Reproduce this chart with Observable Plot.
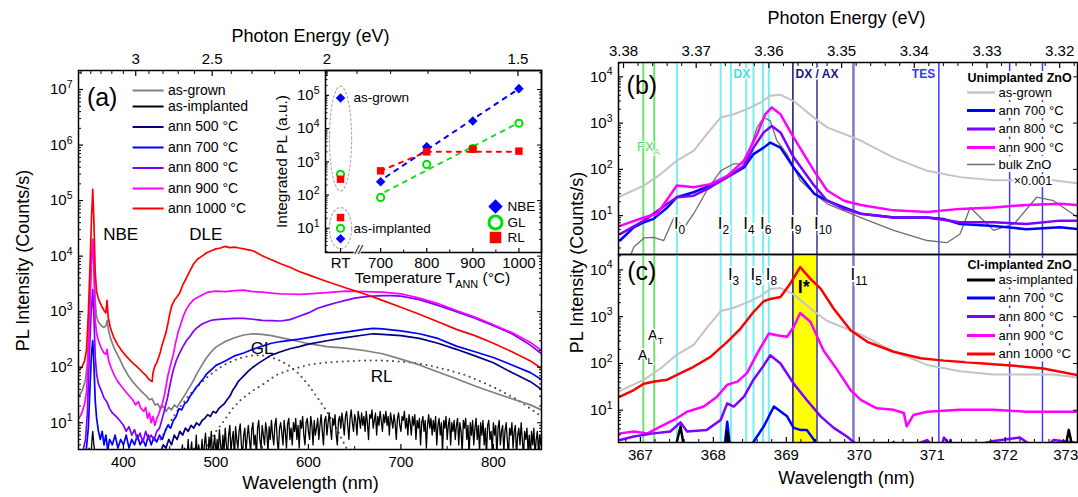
<!DOCTYPE html>
<html>
<head>
<meta charset="utf-8">
<script src="https://cdn.jsdelivr.net/npm/d3@7"></script>
<script src="https://cdn.jsdelivr.net/npm/@observablehq/plot@0.6"></script>
<style>
  html, body { margin: 0; padding: 0; background: #fff; }
  #fig { position: relative; width: 1078px; height: 497px; overflow: hidden; background: #fff; }
  #fig svg { position: absolute; left: 0; top: 0; overflow: visible; }
</style>
</head>
<body>
<div id="fig"></div>
<script>
const W = 1078, H = 497;
const HC = 1239.84; // eV·nm
const FONT = '"Liberation Sans", Arial, Helvetica, sans-serif';

// ===== (a) broad-range PL spectra: [wavelength nm, counts/s] =====
const asGrownA = [[352,30],[356,40],[359,60],[361,120],[363,800],[365,8000],[366.8,20000],[368,9000],[369.5,1500],[371,800],[373,650],[376,560],[379,520],[381,560],[382.5,700],[384,450],[386,330],[390,220],[395,150],[400,100],[405,72],[410,55],[415,44],[420,36],[425,30],[428,26],[431,27],[434,21],[437,22],[440,18],[443,20],[446,16],[449,19],[452,17],[455,21],[458,19],[461,23],[465,29],[470,40],[475,55],[480,80],[485,110],[490,150],[495,190],[500,230],[510,290],[520,340],[530,380],[540,400],[550,390],[560,370],[570,340],[580,315],[590,290],[600,265],[620,235],[640,220],[660,200],[680,175],[700,140],[720,110],[740,82],[760,62],[780,46],[800,35],[820,27],[840,21],[852,17]];
const asImplNBE = [[352,2],[360,2],[363,3.5],[365,2.5],[366,5],[366.8,7],[368,4],[370,2.5],[373,2],[400,2],[459,2]];
const asImplStart = 460, asImplStep = 1.25;
const asImplNoise = [
  2,3,2.5,4,2,3.5,2,2.5,5,2,3,4.5,2,3.5,2.5,6,2,4,3,2.5,
  5,2,4,6.5,3,2,5.5,3.5,7,2.5,4,6,2,5,3,7.5,4,2.5,6,3,
  8,4,2.5,6,9,3,5,7,2,8.5,5,3.5,7,9.5,4,2.5,6,8,3,5.5,
  9,5,3,7.5,10,4,6,2.5,8,11,5,3.5,9,6,4,10,7,3,8.5,5,
  11,6,4,9,12,5,3,8,10,6.5,4,11,7,3.5,9.5,12,5,8,4,10,
  7,12,5,9,3.5,11,8,13,6,4,10,12,7,5,13,9,4,11,6,8,
  12,5,9,14,7,4,11,13,6,10,15,8,5,12,9,14,6,4,11,13,
  8,15,10,6,13,16,9,5,12,17,10,7,14,11,6,16,12,8,15,9,
  13,7,16,10,5,14,12,17,8,11,15,6,13,9,16,11,7,14,10,16,
  9,13,6,15,11,8,14,10,5,12,15,9,7,13,11,16,8,12,6,14,
  10,6,13,9,14,5,11,8,12,4,10,13,7,11,3.5,9,14,8,12,6,
  11,7,13,4,9,12,6,10,3,11,8,13,5,9,12,4,10,7,11,5,
  9,12,4,10,7,3,11,8,12,5,9,2.5,10,6,11,4,8,12,5,9,
  3,10,6,11,4,8,2.5,9,11,5,7,3,10,6,9,2.5,8,11,4,7,
  9,3,7,10,5,2.5,8,6,10,3.5,7,9,2.5,6,8,4,10,5,2.5,7,
  5,8,3,6,2.5,7,4,8,2.5,5,7,3,6,4,7];
const ann500A = [[436,2.5],[440,3],[443,4],[446,3.5],[449,5],[452,4],[455,6],[458,5],[461,7],[464,6],[467,8],[470,7],[473,9],[476,8],[479,10],[482,9],[485,11],[488,12],[491,14],[494,13],[497,16],[500,15],[503,18],[506,20],[509,22],[512,26],[515,30],[518,38],[521,45],[524,55],[527,62],[530,70],[535,85],[540,100],[545,115],[550,130],[560,165],[570,190],[580,215],[590,235],[600,260],[620,300],[640,340],[660,380],[670,400],[680,390],[700,370],[720,330],[740,270],[760,210],[780,160],[800,120],[820,80],[840,55],[852,40]];
const ann700A = [[352,2],[358,2.5],[360,3.5],[362,8],[364,50],[365.5,180],[366.8,300],[368,120],[369.5,25],[371,12],[373,7],[375,5],[377,7],[379,4],[381,6],[383,3.2],[385,5],[388,4],[391,6],[394,3.5],[397,5],[400,4],[403,6],[406,3.5],[409,5],[412,4],[415,6],[418,4],[421,5],[424,3.8],[427,6],[430,4],[433,5.5],[436,4.5],[439,6],[442,5],[445,7],[448,9],[451,8],[454,11],[457,13],[460,18],[463,17],[466,22],[469,24],[472,30],[475,35],[478,42],[481,48],[484,56],[487,64],[490,76],[495,90],[500,108],[505,118],[510,130],[520,160],[530,180],[540,210],[550,240],[560,270],[570,290],[580,305],[590,320],[600,340],[620,390],[640,430],[660,480],[670,500],[680,490],[700,450],[720,400],[740,330],[760,240],[780,190],[800,150],[820,110],[840,80],[852,60]];
const ann800A = [[352,2],[356,3],[359,5],[361,15],[363,150],[365,900],[366.8,2500],[368,900],[369.5,150],[371,75],[373,50],[376,38],[379,28],[382,24],[385,18],[388,15],[392,13],[396,11],[400,9],[403,7],[406,8.5],[409,6],[412,7.5],[415,5],[418,6.5],[421,4.5],[424,7],[427,5],[430,6],[433,4.8],[436,7],[439,8],[442,12],[444,16],[446,22],[448,30],[450,45],[452,65],[454,90],[457,130],[460,170],[464,230],[468,300],[472,360],[476,450],[480,520],[485,600],[490,650],[495,700],[500,720],[510,740],[520,760],[530,760],[540,730],[550,700],[560,690],[570,680],[580,720],[590,830],[600,950],[610,1150],[620,1300],[630,1450],[640,1600],[650,1750],[660,1850],[670,1900],[680,1950],[690,1950],[700,1900],[720,1650],[740,1300],[760,1000],[780,760],[800,560],[820,400],[840,250],[852,175]];
const ann900A = [[352,12],[355,15],[358,22],[360,35],[362,150],[364,1500],[365.5,8000],[366.8,20000],[368,6000],[369.5,700],[371,400],[373,300],[376,220],[379,180],[381,170],[382.3,210],[384,130],[387,95],[390,72],[394,55],[398,45],[402,37],[406,31],[410,26],[413,21],[416,24],[419,18],[422,16],[424,19],[426,12],[428,15],[430,10],[432,13],[434,9],[436,12],[438,14],[440,18],[442,22],[444,30],[446,45],[448,70],[450,95],[452,130],[454,170],[456,260],[459,420],[462,600],[465,850],[468,1100],[472,1400],[476,1650],[480,1800],[485,2000],[490,2200],[495,2300],[500,2350],[510,2300],[520,2400],[530,2450],[540,2300],[550,2250],[560,2150],[570,2100],[580,2080],[590,2050],[600,2100],[620,2200],[640,2350],[660,2300],[680,2250],[700,2100],[720,1750],[740,1400],[760,1050],[780,800],[800,580],[820,420],[840,280],[852,200]];
const ann1000A = [[352,90],[355,100],[358,130],[360,200],[362,900],[364,8000],[365.5,50000],[366.8,160000],[368,45000],[369.5,5000],[371,2300],[373,1700],[376,1300],[379,1050],[381,950],[382.2,1600],[383.5,800],[386,500],[390,330],[394,250],[398,200],[402,165],[406,140],[410,120],[414,105],[418,90],[421,80],[424,72],[427,62],[429,58],[431,55],[432,80],[434,105],[436,120],[438,150],[440,190],[442,260],[444,330],[446,420],[448,600],[450,900],[452,1250],[455,1600],[458,1850],[461,2200],[464,3000],[468,4000],[472,5500],[476,7300],[480,8800],[485,10000],[490,11500],[495,12500],[500,13500],[505,14000],[510,15000],[515,14200],[520,14500],[525,14000],[530,13500],[535,13000],[540,12500],[550,10200],[560,8600],[570,7300],[580,6300],[590,5300],[600,4600],[620,3500],[640,2700],[660,2100],[680,1600],[700,1200],[720,900],[740,660],[760,480],[780,370],[800,270],[820,190],[840,130],[852,95]];
// Gaussian components of the as-grown deep-level band
const glBandA = [[440,5],[450,10],[460,18],[470,30],[480,45],[490,65],[500,88],[510,112],[520,135],[530,152],[540,163],[545,165],[550,163],[560,150],[570,130],[580,105],[590,75],[600,48],[610,28],[620,16],[630,8],[640,3.8],[645,2.6]];
const rlBandA = [[488,3.2],[495,5],[500,7],[509,11],[518,18],[527,26],[540,38],[550,48],[565,72],[580,90],[602,112],[620,122],[640,128],[660,132],[677,132],[695,128],[714,120],[730,108],[751,89],[770,72],[788,54],[805,40],[826,26],[840,18],[852,13]];
const energyMajorA = [3, 2.5, 2, 1.5];
const energyMinorA = [3.5, 3.4, 3.3, 3.2, 3.1, 2.9, 2.8, 2.7, 2.6, 2.4, 2.3, 2.2, 2.1, 1.9, 1.8, 1.7, 1.6];

// ===== (a) inset: integrated PL =====
const RT_T = 613;                      // position of the RT column on the temperature axis
const rtSamples = ["as-grown", "as-implanted"];
const nbeRT = [83000, 4.8];
const glRT = [420, 10];
const rlRT = [300, 21];
const annealT = [700, 800, 900, 1000];
const nbeAnn = [250, 2830, 17000, 160000];
const glAnn = [85, 835, 2500, 14500];
const rlAnn = [535, 2000, 2400, 2100];
const rlTrend = [[700, 535], [800, 2000], [1000, 2000]];

// ===== (b) unimplanted ZnO, near band edge: [wavelength nm, counts/s] =====
const asGrownB = [[366.70,25],[367.05,45],[367.28,79],[367.50,155],[367.73,250],[367.91,575],[368.10,1320],[368.28,1550],[368.46,2000],[368.65,2800],[368.78,3900],[368.92,4100],[369.10,3000],[369.38,1300],[369.56,810],[370.02,420],[370.47,180],[370.93,93],[371.38,68],[371.84,58],[372.66,58],[373.0,50]];
const bulkB = [[366.85,1.2],[366.91,2.1],[367.05,3.3],[367.18,3.4],[367.32,2.9],[367.46,9.1],[367.60,5.6],[367.73,11],[367.91,35],[368.10,93],[368.28,132],[368.42,132],[368.51,295],[368.60,810],[368.69,1320],[368.78,1120],[368.87,417],[369.01,214],[369.19,58],[369.38,30],[369.56,18],[370.02,9.1],[370.47,4.8],[370.93,2.9],[371.20,2.6],[371.38,4],[371.52,15],[371.66,9.1],[371.84,4.8],[372.12,6.6],[372.43,25],[372.66,21],[373.0,9.1]];
const ann700B = [[366.72,2.9],[366.91,5.6],[367.05,7.2],[367.18,8.5],[367.37,15],[367.50,25],[367.73,32],[367.96,45],[368.19,68],[368.42,110],[368.55,214],[368.69,295],[368.78,380],[368.92,295],[369.10,110],[369.38,30],[369.56,21],[369.79,15],[370.02,11],[370.47,9.1],[370.93,9.1],[371.15,8.5],[371.38,6.6],[371.84,6],[372.29,5.1],[372.75,5.6],[373.0,5.1]];
const ann800B = [[366.72,4],[367.05,7.8],[367.37,18],[367.50,25],[367.73,27],[367.96,41],[368.19,68],[368.42,120],[368.55,295],[368.69,630],[368.80,870],[368.92,630],[369.10,182],[369.38,45],[369.56,21],[369.79,14],[370.02,11],[370.47,9.1],[370.93,9.1],[371.38,7.2],[371.84,7.2],[372.29,6.6],[372.75,7.8],[373.0,7.8]];
const ann900B = [[366.72,6],[367.05,9.1],[367.23,11],[367.50,45],[367.73,41],[367.96,48],[368.19,72],[368.42,155],[368.60,575],[368.71,1550],[368.80,2190],[368.92,1550],[369.10,490],[369.38,93],[369.56,35],[369.79,21],[370.02,17],[370.47,13],[370.93,12],[371.38,14],[371.84,15],[372.29,17],[372.75,18],[373.0,17]];

// ===== (c) Cl-implanted ZnO =====
const asImplC = [[367.45,1],[367.55,4.5],[367.62,1],[368.15,1],[368.19,3.5],[368.25,1],[372.8,1],[372.87,3.8],[372.95,1]];
const ann700C = [[367.9,1],[368.15,1.5],[368.19,5.7],[368.23,1.5],[368.4,1],[368.55,2.1],[368.69,4.5],[368.83,12],[369.01,7.4],[369.10,4.2],[369.19,3.8],[369.28,3.8],[369.38,2.3],[369.45,1],[371.2,1],[371.25,2.3],[371.3,1]];
const ann800C = [[366.72,2.3],[366.91,2.75],[367.18,3.2],[367.41,3.5],[367.55,5.5],[367.64,3.5],[367.91,3.8],[368.10,6.2],[368.19,14],[368.28,12],[368.42,19.5],[368.55,45],[368.69,91],[368.78,150],[368.92,100],[369.10,37],[369.28,16.6],[369.47,7.4],[369.65,4.2],[369.83,2.75],[369.92,2.1],[370.0,1.6],[370.40,1.4],[370.47,2.1],[370.55,1.4],[370.93,2.3],[371.1,1.25],[371.16,2.6],[371.3,1.4],[371.84,2.2],[372.2,2.6],[372.5,1.25],[372.66,2.3],[373.0,2.0]];
const ann900C = [[366.72,3.2],[366.91,3.5],[367.10,3.2],[367.28,4.5],[367.46,6.2],[367.64,9.3],[367.87,12],[368.05,19.5],[368.19,35],[368.33,41],[368.46,62],[368.60,162],[368.76,437],[368.87,400],[369.01,372],[369.10,600],[369.19,1200],[369.33,776],[369.51,190],[369.70,72],[369.88,27],[370.02,16.6],[370.24,11],[370.47,10.2],[370.61,8.7],[370.65,4.5],[370.74,7.9],[370.93,9.3],[371.38,10.2],[371.84,10.2],[372.29,9.3],[373.0,9.3]];
const ann1000C = [[366.72,19.5],[366.91,27],[367.05,37],[367.19,41],[367.37,45],[367.55,62],[367.73,85],[367.96,138],[368.19,290],[368.37,550],[368.55,1260],[368.69,2140],[368.78,2400],[368.92,2630],[369.05,5000],[369.19,11500],[369.33,6460],[369.47,3980],[369.65,1480],[369.88,513],[370.11,290],[370.47,178],[370.84,129],[371.16,115],[371.61,102],[372.07,91],[372.52,78],[373.0,56]];

// reference transition lines (nm) shared by (b) and (c)
const lineNm    = [367.04, 367.19, 367.50, 368.10, 368.24, 368.45, 368.55, 368.68, 368.76, 369.09, 369.42, 369.92, 371.09, 372.06, 372.51];
const lineKind  = ["FX","FX","DX","DX","DX","DX","DX","DX","DX","I9","I10","I11","TES","TES","TES"];
const lineLabelsB = [["I_{0}",367.50],["I_{2}",368.10],["I_{4}",368.45],["I_{6}",368.68],["I_{9}",369.09],["I_{10}",369.42]];
const lineLabelsC = [["I_{3}",368.24],["I_{5}",368.55],["I_{8}",368.76],["I_{11}",369.92]];
const bandIstar = [369.09, 369.42];
const wavelengthTicksC = [367, 368, 369, 370, 371, 372, 373];
const energyMajorB = [3.38, 3.37, 3.36, 3.35, 3.34, 3.33, 3.32];
const energyEdgesB = [3.38069, 3.31755];   // photon energy at left / right frame edge

// ---------- styling ----------
const COL = {gray:"#808080", light:"#c4c4c4", bulk:"#6e6e6e", black:"#000", navy:"#000080", blue:"#0000ff", purple:"#8000ff", magenta:"#ff00ff", red:"#ff0000"};
const KIND = {FX:["#6ee06e",2], DX:["#74f0f0",2], I9:["#141478",1.5], I10:["#6767aa",2], I11:["#7b7bc2",2.5], TES:["#3c3cff",1.5]};
const bcLines = lineNm.map((nm, i) => ({nm, color: KIND[lineKind[i]][0], width: KIND[lineKind[i]][1]}));

const pow10 = d => `10^{${Math.round(Math.log10(d))}}`;
function logMinor(lo, hi) {
  const out = [];
  for (let e = Math.floor(Math.log10(lo)); e <= Math.ceil(Math.log10(hi)); e++)
    for (let k = 2; k <= 9; k++) { const v = k * 10 ** e; if (v >= lo && v <= hi) out.push(v); }
  return out;
}
const blank = () => "";
const baseStyle = {fontFamily: FONT, fontSize: "15px", color: "#000", background: "transparent", overflow: "visible"};

// turn ^{..} and _{..} into raised / lowered tspans
function rich(svg) {
  d3.select(svg).selectAll("text").each(function () {
    const s = this.textContent;
    if (!/[_^]\{/.test(s)) return;
    const t = d3.select(this); t.text(null);
    const re = /([_^])\{([^}]*)\}/g; let last = 0, m, shift = 0;
    const push = (txt, sh, small) => {
      if (!txt) return;
      const sp = t.append("tspan").text(txt);
      const d = sh - shift;
      if (small) { sp.attr("font-size", "70%"); if (d) sp.attr("dy", (d / 0.7).toFixed(3) + "em"); }
      else if (d) sp.attr("dy", d.toFixed(3) + "em");
      shift = sh;
    };
    while ((m = re.exec(s))) {
      push(s.slice(last, m.index), 0, false);
      push(m[2], m[1] === "^" ? -0.42 : 0.3, true);
      last = re.lastIndex;
    }
    push(s.slice(last), 0, false);
  });
}
const fig = document.getElementById("fig");
function add(svg) { rich(svg); fig.appendChild(svg); }

const ln = (data, stroke, w = 1.5, extra = {}) => Plot.line(data, {x: d => d[0], y: d => d[1], stroke, strokeWidth: w, clip: true, ...extra});
const halo = (w) => ({fill: "#000", stroke: "white", strokeWidth: w});

// ---------- (a) main panel ----------
const asImplA = asImplNBE.concat(asImplNoise.map((v, i) => [asImplStart + i * asImplStep, v]));
const aFrame = {left: 78, right: 541, top: 70, bottom: 449};
add(Plot.plot({
  width: W, height: H,
  marginLeft: aFrame.left, marginRight: W - aFrame.right, marginTop: aFrame.top, marginBottom: H - aFrame.bottom,
  x: {domain: [351.4, 852]},
  y: {type: "log", domain: [3.3, 2.2e7]},
  style: baseStyle,
  marks: [
    ln(glBandA, "#505050", 2, {strokeDasharray: "0.1,5.5", strokeLinecap: "round"}),
    ln(rlBandA, "#505050", 2, {strokeDasharray: "0.1,5.5", strokeLinecap: "round"}),
    ln(asGrownA, COL.gray, 1.7),
    ln(ann500A, COL.navy, 1.7),
    ln(ann700A, COL.blue, 1.7),
    ln(asImplA, COL.black, 1.3),
    ln(ann800A, COL.purple, 1.7),
    ln(ann900A, COL.magenta, 1.7),
    ln(ann1000A, COL.red, 1.7),
    Plot.text([["NBE", 397, 24000], ["DLE", 489, 24000], ["GL", 550, 215], ["RL", 679, 68]],
      {x: d => d[1], y: d => d[2], text: d => d[0], fontSize: 17}),
    Plot.text(["(a)"], {x: () => 377, y: () => 6.9e6, text: d => d, fontSize: 25}),
    Plot.frame({stroke: "#000", strokeWidth: 1.5}),
    Plot.axisX({anchor: "bottom", ticks: [400, 500, 600, 700, 800], tickSize: -5, tickPadding: 12, strokeWidth: 1.2, label: null}),
    Plot.axisX({anchor: "bottom", ticks: [450, 550, 650, 750, 850], tickSize: -3, tickFormat: blank, label: null}),
    Plot.axisX({anchor: "top", ticks: energyMajorA.map(e => HC / e), tickFormat: d => String(+(HC / d).toFixed(1)),
      tickSize: -5, tickPadding: 12, strokeWidth: 1.2, label: null}),
    Plot.axisX({anchor: "top", ticks: energyMinorA.map(e => HC / e), tickSize: -3, tickFormat: blank, label: null}),
    Plot.axisY({anchor: "left", ticks: [1e1, 1e2, 1e3, 1e4, 1e5, 1e6, 1e7], tickFormat: pow10, tickSize: -5, tickPadding: 11, strokeWidth: 1.2, label: null}),
    Plot.axisY({anchor: "left", ticks: logMinor(3.3, 2.2e7), tickSize: -3, tickFormat: blank, label: null}),
    Plot.axisY({anchor: "right", ticks: [1e1, 1e2, 1e3, 1e4, 1e5, 1e6, 1e7], tickSize: -5, tickFormat: blank, label: null}),
    Plot.axisY({anchor: "right", ticks: logMinor(3.3, 2.2e7), tickSize: -3, tickFormat: blank, label: null})
  ]
}));

// ---------- (a) inset ----------
function ellipse(vals, pad) {
  const lo = Math.log10(d3.min(vals)) - pad, hi = Math.log10(d3.max(vals)) + pad;
  const cy = (lo + hi) / 2, ry = (hi - lo) / 2;
  return d3.range(0, 361, 5).map(a => [RT_T + 24 * Math.cos(a * Math.PI / 180), 10 ** (cy + ry * Math.sin(a * Math.PI / 180))]);
}
function logFit(xs, ys, x0, x1) {
  const ly = ys.map(Math.log10), mx = d3.mean(xs), my = d3.mean(ly);
  const b = d3.sum(xs, (x, i) => (x - mx) * (ly[i] - my)) / d3.sum(xs, x => (x - mx) ** 2);
  return [[x0, 10 ** (my + b * (x0 - mx))], [x1, 10 ** (my + b * (x1 - mx))]];
}
const pts = (xs, ys) => xs.map((x, i) => [x, ys[i]]);
add(Plot.plot({
  width: W, height: H,
  marginLeft: 325, marginRight: W - 541, marginTop: 70, marginBottom: H - 252,
  x: {domain: [580.4, 1049]},
  y: {type: "log", domain: [10 ** 0.27, 10 ** 5.75]},
  style: baseStyle,
  marks: [
    ln(ellipse([nbeRT[0], glRT[0], rlRT[0]], 0.36), "#b0b0b0", 1.2, {strokeDasharray: "2,2.5"}),
    ln(ellipse([nbeRT[1], glRT[1], rlRT[1]], 0.3), "#b0b0b0", 1.2, {strokeDasharray: "2,2.5"}),
    ln(logFit(annealT, nbeAnn, 712, 990), COL.blue, 2, {strokeDasharray: "4,6"}),
    ln(logFit(annealT, glAnn, 710, 990), "#22dd22", 2, {strokeDasharray: "4,6"}),
    ln(rlTrend, COL.red, 2, {strokeDasharray: "4,6"}),
    Plot.dot(pts(annealT, nbeAnn).concat(rtSamples.map((s, i) => [RT_T, nbeRT[i]])), {x: d => d[0], y: d => d[1], symbol: "diamond2", r: 4.3, fill: COL.blue}),
    Plot.dot(pts(annealT, glAnn).concat(rtSamples.map((s, i) => [RT_T, glRT[i]])), {x: d => d[0], y: d => d[1], r: 3.6, fill: "white", stroke: "#00dd00", strokeWidth: 2}),
    Plot.dot(pts(annealT, rlAnn).concat(rtSamples.map((s, i) => [RT_T, rlRT[i]])), {x: d => d[0], y: d => d[1], symbol: "square", r: 4.2, fill: COL.red}),
    Plot.text([[rtSamples[0], nbeRT[0]], [rtSamples[1], glRT[1]]], {x: () => RT_T, y: d => d[1], text: d => d[0], dx: 13, textAnchor: "start", fontSize: 13.5}),
    Plot.frame({stroke: "#000", strokeWidth: 1.5}),
    Plot.axisX({anchor: "bottom", ticks: [RT_T, 700, 800, 900, 1000], tickFormat: d => d === RT_T ? "RT" : String(d),
      tickSize: -4, tickPadding: 9, strokeWidth: 1.2, label: null}),
    Plot.axisX({anchor: "bottom", ticks: [750, 850, 950], tickSize: -2.5, tickFormat: blank, label: null}),
    Plot.text(["//"], {x: () => 652, frameAnchor: "bottom", text: d => d, fontSize: 13, fontStyle: "italic", ...halo(2), dy: 1}),
    Plot.axisY({anchor: "left", ticks: [1e1, 1e2, 1e3, 1e4, 1e5], tickFormat: pow10, tickSize: -4, tickPadding: 10, strokeWidth: 1.2, label: null}),
    Plot.axisY({anchor: "left", ticks: logMinor(10 ** 0.27, 10 ** 5.75), tickSize: -2.5, tickFormat: blank, label: null})
  ]
}));

// ---------- (b) ----------
const bcX = {domain: [366.70, 372.99]};
const bcLeft = 618, bcRight = 1077, bTop = 62, bcMid = 254, cBottom = 442;
const ruleMarks = () => Plot.ruleX(bcLines, {x: "nm", stroke: "color", strokeWidth: "width"});
const iLabel = (data, y) => Plot.text(data, {x: d => d[1], y: () => y, text: d => d[0], textAnchor: "start", dx: -3, fontSize: 17, ...halo(4)});
add(Plot.plot({
  width: W, height: H,
  marginLeft: bcLeft, marginRight: W - bcRight, marginTop: bTop, marginBottom: H - bcMid,
  x: {...bcX, axis: null}, y: {type: "log", domain: [10 ** 0.16, 10 ** 4.31], axis: null},
  style: baseStyle,
  marks: [
    ruleMarks(),
    ln(asGrownB, COL.light, 2),
    ln(bulkB, COL.bulk, 1.3),
    ln(ann700B, COL.blue, 2.5),
    ln(ann800B, COL.purple, 2.5),
    ln(ann900B, COL.magenta, 2.5),
    iLabel(lineLabelsB, 6.9),
    Plot.text(["FX_{A}"], {x: () => 367.11, y: () => 300, text: d => d, fontSize: 13, fill: "#55dd55", stroke: "white", strokeWidth: 2}),
    Plot.text([["DX", 368.39, "#40e0e0"], ["DX / AX", 369.42, "#1a1a80"], ["TES", 370.88, "#3535ff"]],
      {x: d => d[1], y: () => 11500, text: d => d[0], fill: d => d[2], fontWeight: "bold", fontSize: 12, stroke: "white", strokeWidth: 3}),
    Plot.text(["×0.001"], {x: () => 372.38, y: () => 56, text: d => d, fontSize: 12.5, ...halo(4)}),
    Plot.text(["(b)"], {x: () => 367.02, y: () => 10 ** 3.8, text: d => d, fontSize: 25}),
    Plot.frame({stroke: "#000", strokeWidth: 1.5}),
    Plot.axisY({anchor: "left", ticks: [1e1, 1e2, 1e3, 1e4], tickFormat: pow10, tickSize: -5, tickPadding: 11, strokeWidth: 1.2, label: null}),
    Plot.axisY({anchor: "left", ticks: logMinor(10 ** 0.16, 10 ** 4.31), tickSize: -3, tickFormat: blank, label: null}),
    Plot.axisY({anchor: "right", ticks: [1e1, 1e2, 1e3, 1e4], tickSize: -5, tickFormat: blank, label: null})
  ]
}));

// (b) photon-energy axis
add(Plot.plot({
  width: W, height: H,
  marginLeft: bcLeft, marginRight: W - bcRight, marginTop: bTop, marginBottom: H - bcMid,
  x: {domain: energyEdgesB},
  style: baseStyle,
  marks: [
    Plot.axisX({anchor: "top", ticks: energyMajorB, tickFormat: d => d.toFixed(2), tickSize: -5, tickPadding: 12, strokeWidth: 1.2, label: null}),
    Plot.axisX({anchor: "top", ticks: d3.range(3.318, 3.381, 0.002).filter(e => !energyMajorB.some(m => Math.abs(m - e) < 1e-4)), tickSize: -3, tickFormat: blank, label: null})
  ]
}));

// ---------- (c) ----------
add(Plot.plot({
  width: W, height: H,
  marginLeft: bcLeft, marginRight: W - bcRight, marginTop: bcMid, marginBottom: H - cBottom,
  x: {...bcX, axis: null}, y: {type: "log", domain: [10 ** 0.31, 10 ** 4.33], axis: null},
  style: baseStyle,
  marks: [
    Plot.rect([bandIstar], {x1: d => d[0], x2: d => d[1], fill: "#ffff00"}),
    ruleMarks(),
    ln(asGrownB, COL.light, 2),
    ln(ann1000C, COL.red, 2.5),
    ln(ann900C, COL.magenta, 2.5),
    ln(ann800C, COL.purple, 2.5),
    ln(ann700C, COL.blue, 2.5),
    ln(asImplC, COL.black, 2.5),
    iLabel(lineLabelsC, 8100),
    Plot.text(["I*"], {x: () => 369.24, y: () => 10 ** 3.63, text: d => d, fontSize: 18, fontWeight: "bold"}),
    Plot.text([["A_{T}", 367.21, 400], ["A_{L}", 367.07, 148]], {x: d => d[1], y: d => d[2], text: d => d[0], fontSize: 14, ...halo(3)}),
    Plot.text(["(c)"], {x: () => 367.02, y: () => 10 ** 3.95, text: d => d, fontSize: 25}),
    Plot.frame({stroke: "#000", strokeWidth: 1.5}),
    Plot.axisX({anchor: "bottom", ticks: wavelengthTicksC.slice(0, -1), tickFormat: d => d.toFixed(0), tickSize: -5, tickPadding: 12, strokeWidth: 1.2, label: null}),
    Plot.axisX({anchor: "bottom", ticks: wavelengthTicksC.slice(-1), tickFormat: d => d.toFixed(0), textAnchor: "end", tickSize: -5, tickPadding: 12, strokeWidth: 1.2, label: null}),
    Plot.axisX({anchor: "bottom", ticks: d3.range(366.8, 373, 0.2).filter(v => Math.abs(v - Math.round(v)) > 0.05), tickSize: -3, tickFormat: blank, label: null}),
    Plot.axisY({anchor: "left", ticks: [1e1, 1e2, 1e3, 1e4], tickFormat: pow10, tickSize: -5, tickPadding: 11, strokeWidth: 1.2, label: null}),
    Plot.axisY({anchor: "left", ticks: logMinor(10 ** 0.31, 10 ** 4.33), tickSize: -3, tickFormat: blank, label: null}),
    Plot.axisY({anchor: "right", ticks: [1e1, 1e2, 1e3, 1e4], tickSize: -5, tickFormat: blank, label: null})
  ]
}));

// ---------- legends and axis titles (pixel layout) ----------
const legendA = [["as-grown", COL.gray], ["as-implanted", COL.black], ["ann 500 °C", COL.navy], ["ann 700 °C", COL.blue],
  ["ann 800 °C", COL.purple], ["ann 900 °C", COL.magenta], ["ann 1000 °C", COL.red]];
const legendARows = [90, 106, 126.5, 147, 167.5, 188, 208];
const legendB = [["as-grown", COL.light, 2.5], ["ann 700 °C", COL.blue, 3], ["ann 800 °C", COL.purple, 3], ["ann 900 °C", COL.magenta, 3], ["bulk ZnO", COL.bulk, 1.5]];
const legendBRows = [92, 110, 128.5, 147, 164];
const legendC = [["as-implanted", COL.black, 3], ["ann 700 °C", COL.blue, 3], ["ann 800 °C", COL.purple, 3], ["ann 900 °C", COL.magenta, 3], ["ann 1000 °C", COL.red, 3]];
const legendCRows = [279.5, 297.5, 316, 335, 353.5];
const insetKeys = [["NBE", "diamond2", COL.blue], ["GL", "circle", "#00dd00"], ["RL", "square", COL.red]];
const insetKeyRows = [206, 222, 237];
const titles = [
  {t: "Photon Energy (eV)", x: 310, y: 36, r: 0, s: 18},
  {t: "Wavelength (nm)", x: 310, y: 483, r: 0, s: 18},
  {t: "PL Intensity (Counts/s)", x: 23, y: 260, r: -90, s: 18},
  {t: "Integrated PL (a.u.)", x: 282, y: 161, r: -90, s: 15.5},
  {t: "Temperature T_{ANN} (°C)", x: 432, y: 278, r: 0, s: 15.5},
  {t: "Photon Energy (eV)", x: 846, y: 18, r: 0, s: 18},
  {t: "Wavelength (nm)", x: 846, y: 478, r: 0, s: 18},
  {t: "PL Intensity (Counts/s)", x: 577, y: 262, r: -90, s: 18}
];
const rowMarks = (items, rows, x1, x2, tx, fs) => [
  Plot.rect(items, {x1: () => x1 - 2, x2: d => tx + 6.3 * d[0].length + 3, y1: (d, i) => rows[i] - 8, y2: (d, i) => rows[i] + 8, fill: "white"}),
  Plot.ruleY(items, {y: (d, i) => rows[i], x1: () => x1, x2: () => x2, stroke: d => d[1], strokeWidth: d => d[2] ?? 2}),
  Plot.text(items, {x: () => tx, y: (d, i) => rows[i], text: d => d[0], textAnchor: "start", fontSize: fs})
];
add(Plot.plot({
  width: W, height: H, margin: 0,
  x: {type: "identity", axis: null}, y: {type: "identity", axis: null},
  style: baseStyle,
  marks: [
    Plot.ruleY(legendA, {y: (d, i) => legendARows[i], x1: () => 132.6, x2: () => 163.6, stroke: d => d[1], strokeWidth: 2}),
    Plot.text(legendA, {x: () => 167.5, y: (d, i) => legendARows[i], text: d => d[0], textAnchor: "start", fontSize: 14}),
    Plot.dot(insetKeys, {x: () => 495, y: (d, i) => insetKeyRows[i], symbol: d => d[1],
      r: 6.5, fill: d => d[1] === "circle" ? "white" : d[2], stroke: d => d[1] === "circle" ? d[2] : "none", strokeWidth: 3}),
    Plot.text(insetKeys, {x: () => 507, y: (d, i) => insetKeyRows[i], text: d => d[0], textAnchor: "start", fontSize: 13.5}),
    Plot.text(["Unimplanted ZnO"], {x: () => 967, y: () => 77, text: d => d, textAnchor: "start", fontWeight: "bold", fontSize: 12.5, ...halo(4)}),
    ...rowMarks(legendB, legendBRows, 967, 995, 998, 13),
    Plot.text(["Cl-implanted ZnO"], {x: () => 967, y: () => 264.5, text: d => d, textAnchor: "start", fontWeight: "bold", fontSize: 12.5, ...halo(4)}),
    ...rowMarks(legendC, legendCRows, 967, 995, 998, 13),
    Plot.text(titles, {x: "x", y: "y", rotate: "r", text: "t", fontSize: "s"})
  ]
}));
</script>
</body>
</html>
